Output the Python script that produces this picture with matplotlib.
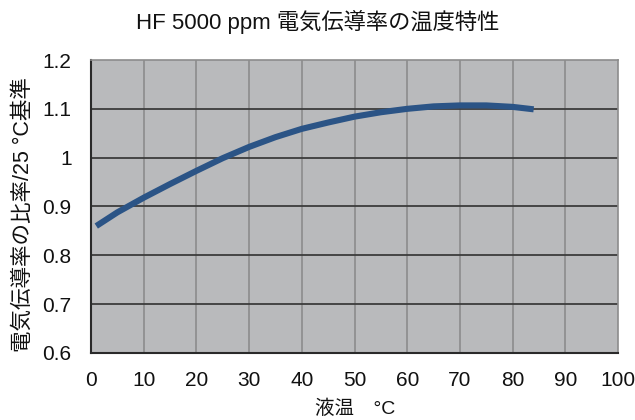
import numpy as np
import matplotlib.pyplot as plt

# ================================
# DATA
# ================================
temp_c = [1, 5, 10, 15, 20, 25, 30, 35, 40, 45, 50, 55, 60, 65, 70, 75, 80, 84]
ratio = [0.860, 0.888, 0.918, 0.946, 0.973, 0.999, 1.022, 1.042, 1.059,
         1.072, 1.084, 1.093, 1.100, 1.105, 1.107, 1.107, 1.104, 1.099]

x_ticks = [0, 10, 20, 30, 40, 50, 60, 70, 80, 90, 100]
y_ticks = [0.6, 0.7, 0.8, 0.9, 1.0, 1.1, 1.2]
y_ticklabels = ["0.6", "0.7", "0.8", "0.9", "1", "1.1", "1.2"]

title = "HF 5000 ppm 電気伝導率の温度特性"
xlabel = "液温\u3000°C"
ylabel = "電気伝導率の比率/25 °C基準"

fonts = ["Liberation Sans", "Noto Sans CJK JP"]

# ================================
# PLOT
# ================================
W, H = 635, 420
fig = plt.figure(figsize=(W / 100, H / 100), dpi=100)
ax = fig.add_axes([91 / W, 1 - 353 / H, (618 - 91) / W, (353 - 60) / H])

ax.set_facecolor("#b9babc")
ax.plot(temp_c, ratio, color="#2b5486", lw=4.4, solid_capstyle="butt",
        solid_joinstyle="round", zorder=3)

ax.set_xlim(0, 100)
ax.set_ylim(0.6, 1.2)
ax.set_xticks(x_ticks)
ax.set_yticks(y_ticks)
ax.set_yticklabels(y_ticklabels)

for v in x_ticks[1:-1]:
    ax.axvline(v, color="#8c8c8c", lw=1.2, zorder=1)
for v in y_ticks[1:-1]:
    ax.axhline(v, color="#3c3c3c", lw=1.3, zorder=1)

for side in ["left", "bottom"]:
    ax.spines[side].set_color("#2a2a2a")
    ax.spines[side].set_linewidth(1.5)
for side in ["top", "right"]:
    ax.spines[side].set_color("#8c8c8c")
    ax.spines[side].set_linewidth(1.2)

ax.tick_params(axis="both", length=0, labelsize=15, colors="#111111")
ax.tick_params(axis="y", pad=14)
ax.tick_params(axis="x", pad=13)
for lab in ax.get_xticklabels() + ax.get_yticklabels():
    lab.set_family(fonts)

fig.text(318 / W, 1 - 22 / H, title, ha="center", va="center",
         fontsize=16, family=fonts, color="#111111")
fig.text(355 / W, 1 - 409 / H, xlabel, ha="center", va="center",
         fontsize=14, family=fonts, color="#111111")
fig.text(23 / W, 1 - 215 / H, ylabel, ha="center", va="center", rotation=90,
         fontsize=15.5, family=fonts, color="#111111")

fig.savefig("out.png", dpi=100)
